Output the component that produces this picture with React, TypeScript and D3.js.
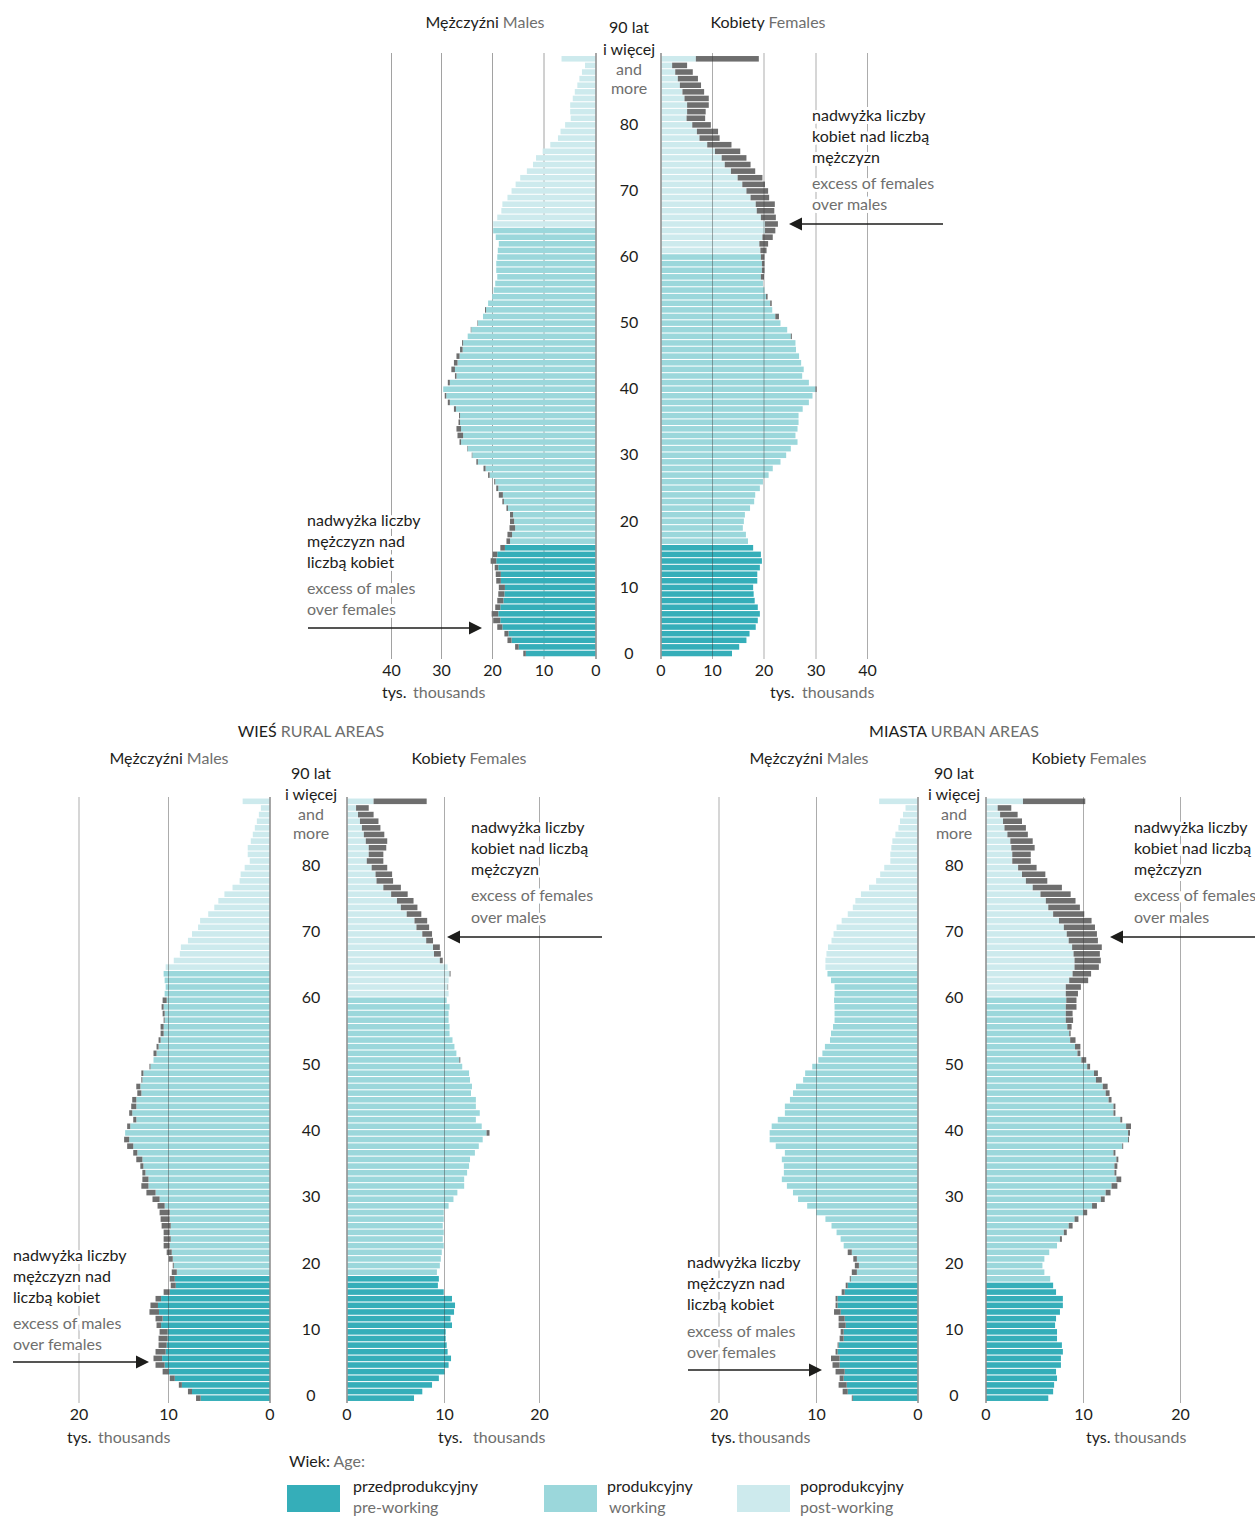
import React from "react";
import * as d3 from "d3";

// ---------- data (thousands of persons, index = age 0..90, 90 = "90 and more") ----------
const AGES = d3.range(0, 91);
const AGE_LABELS = [0, 10, 20, 30, 40, 50, 60, 70, 80];
const TOP_TICKS = [0, 10, 20, 30, 40];
const SUB_TICKS = [0, 10, 20];
const MALE_WORKING_LAST_AGE = 64;
const FEMALE_WORKING_LAST_AGE = 60;

const totalMales = [
  14.2, 15.8, 17.3, 17.9, 19.3, 20.1, 20.4, 19.7, 19.3, 19.1,
  19.0, 19.5, 19.6, 19.8, 20.6, 20.2, 18.7, 17.5, 17.3, 16.9,
  16.8, 16.8, 17.5, 18.3, 19.0, 19.5, 19.9, 21.1, 22.0, 23.4,
  24.3, 25.2, 26.7, 27.1, 27.3, 26.9, 26.8, 27.8, 29.0, 29.6,
  29.9, 29.0, 27.6, 28.3, 27.8, 27.3, 26.6, 26.2, 25.1, 24.5,
  23.2, 22.1, 21.7, 21.1, 20.3, 20.0, 19.7, 19.3, 19.5, 19.5,
  19.3, 19.2, 19.0, 19.6, 20.1, 20.1, 19.3, 18.5, 18.3, 17.3,
  16.5, 15.7, 14.8, 13.5, 12.3, 11.7, 10.4, 8.9, 7.4, 6.9,
  6.0, 4.9, 5.0, 5.0, 4.5, 4.1, 3.6, 3.2, 2.7, 2.1,
  6.7,
];
const totalFemales = [
  13.7, 15.1, 16.5, 17.1, 18.3, 18.7, 19.1, 18.7, 18.1, 17.9,
  17.8, 18.6, 18.6, 19.1, 19.5, 19.3, 17.8, 16.8, 16.4, 15.8,
  16.0, 16.2, 17.2, 18.0, 18.2, 19.1, 19.7, 20.8, 21.6, 23.1,
  24.2, 25.1, 26.4, 26.0, 26.4, 26.6, 26.6, 27.4, 28.6, 29.3,
  30.1, 28.6, 27.3, 27.6, 27.1, 26.7, 26.1, 26.0, 25.3, 24.4,
  23.1, 22.8, 21.5, 21.4, 20.6, 20.0, 19.7, 19.9, 20.0, 20.0,
  20.0, 20.4, 20.7, 21.6, 22.1, 22.6, 22.2, 21.9, 22.0, 20.9,
  20.7, 20.1, 19.6, 18.2, 17.3, 16.5, 15.3, 13.6, 11.3, 11.0,
  9.6, 8.5, 8.6, 9.2, 9.2, 8.3, 7.7, 7.1, 6.1, 5.0,
  18.9,
];
const ruralMales = [
  7.3, 8.1, 9.0, 9.9, 10.6, 11.3, 11.5, 11.3, 11.0, 11.0,
  10.9, 11.2, 11.3, 11.9, 11.8, 11.3, 10.5, 9.8, 9.9, 9.7,
  9.6, 10.0, 10.2, 10.5, 10.5, 10.5, 10.7, 10.8, 10.9, 11.1,
  11.6, 12.2, 12.7, 12.6, 12.6, 12.8, 13.2, 13.5, 14.1, 14.4,
  14.3, 14.1, 13.5, 13.9, 13.7, 13.6, 13.1, 13.2, 12.7, 12.7,
  11.9, 11.5, 11.5, 11.2, 11.0, 10.8, 10.8, 10.5, 10.6, 10.7,
  10.6, 10.4, 10.3, 10.4, 10.5, 10.3, 9.5, 8.9, 8.8, 8.1,
  7.7, 7.1, 6.9, 6.1, 5.5, 5.1, 4.5, 3.7, 3.0, 2.9,
  2.5, 2.0, 2.2, 2.2, 1.9, 1.7, 1.5, 1.3, 1.1, 0.9,
  2.7,
];
const ruralFemales = [
  6.85, 7.7, 8.7, 9.4, 10.0, 10.4, 10.65, 10.3, 10.2, 10.1,
  10.1, 10.75, 10.6, 10.96, 11.06, 10.75, 9.9, 9.3, 9.4, 9.2,
  9.5, 9.6, 9.7, 9.9, 9.8, 9.9, 9.8, 9.9, 9.9, 10.4,
  10.9, 11.3, 12.0, 12.0, 12.3, 12.5, 12.6, 13.1, 13.5, 13.9,
  14.6, 13.8, 13.2, 13.6, 13.2, 13.2, 12.7, 12.8, 12.6, 12.5,
  11.8, 11.6, 11.2, 11.0, 10.8, 10.5, 10.5, 10.4, 10.4, 10.5,
  10.2, 10.4, 10.35, 10.4, 10.6, 10.3, 9.8, 9.6, 9.5, 8.8,
  8.7, 8.4, 8.2, 7.6, 7.2, 6.8, 6.2, 5.5, 4.7, 4.6,
  4.1, 3.7, 3.7, 4.0, 4.1, 3.8, 3.4, 3.2, 2.7, 2.2,
  8.15,
];
const urbanMales = [
  6.5, 7.4, 7.8, 7.7, 8.1, 8.4, 8.55, 8.1, 7.9, 7.7,
  7.6, 7.8, 7.8, 8.25, 8.1, 8.1, 7.5, 7.1, 6.7, 6.5,
  6.2, 6.35, 6.9, 7.3, 7.6, 8.0, 8.5, 9.1, 10.0, 10.9,
  11.8, 12.3, 12.9, 13.4, 13.2, 13.2, 13.4, 13.1, 14.0, 14.6,
  14.6, 14.4, 13.8, 13.1, 13.1, 12.6, 12.3, 12.0, 11.3, 11.1,
  10.4, 9.8, 9.4, 9.15, 8.65, 8.55, 8.35, 8.2, 8.2, 8.2,
  8.25, 8.2, 8.2, 8.55, 8.9, 9.1, 9.1, 9.0, 8.85, 8.5,
  8.3, 8.0, 7.5, 6.9, 6.4, 6.15, 5.6, 4.8, 4.1, 3.7,
  3.3, 2.7, 2.7, 2.6, 2.5, 2.2, 1.9, 1.75, 1.45, 1.2,
  3.8,
];
const urbanFemales = [
  6.4, 6.9, 7.0, 7.3, 7.2, 7.7, 7.7, 7.9, 7.8, 7.3,
  7.3, 7.1, 7.2, 7.6, 7.9, 7.9, 7.2, 6.9, 6.6, 6.0,
  5.8, 6.0, 6.5, 7.3, 7.8, 8.3, 8.9, 9.5, 10.4, 11.4,
  12.2, 12.8, 13.5, 13.9, 13.4, 13.5, 13.6, 13.3, 14.1, 14.7,
  14.8, 14.9, 14.0, 13.3, 13.3, 12.9, 12.7, 12.5, 11.9, 11.5,
  10.7, 10.3, 9.7, 9.7, 9.2, 8.7, 8.8, 8.95, 8.9, 9.3,
  9.3, 9.45, 9.75, 10.5, 10.8, 11.6, 11.8, 11.7, 11.9, 11.5,
  11.4, 11.2, 10.85, 10.1, 9.65, 9.2, 8.7, 7.8, 6.3, 6.1,
  5.2, 4.6, 4.6, 5.0, 4.8, 4.3, 4.1, 3.7, 3.25, 2.6,
  10.2,
];

const LEGEND_ITEMS = [
  { key: "pre", pl: "przedprodukcyjny", en: "pre-working" },
  { key: "work", pl: "produkcyjny", en: "working" },
  { key: "post", pl: "poprodukcyjny", en: "post-working" },
];

const MALE_NOTE = ["nadwyżka liczby", "mężczyzn nad", "liczbą kobiet", "excess of males", "over females"];
const FEMALE_NOTE = ["nadwyżka liczby", "kobiet nad liczbą", "mężczyzn", "excess of females", "over males"];

// ---------- styles ----------
const C = {
  pre: "#35aeb9",
  work: "#9bd7db",
  post: "#cdeaed",
  excess: "#6e6e6e",
  text: "#1d1d1b",
  grey: "#6f6f6e",
  grid: "#3a3a3a",
  axis: "#8a8a8a",
};
const FONT = "Lato, 'Open Sans', 'DejaVu Sans', sans-serif";
const FS = 16;
const TDY = -1.3; // small vertical nudge for text centres

function colorFor(age: number, sex: "m" | "f", preLast: number) {
  if (age <= preLast) return C.pre;
  const last = sex === "m" ? MALE_WORKING_LAST_AGE : FEMALE_WORKING_LAST_AGE;
  return age <= last ? C.work : C.post;
}

// ---------- layout configs ----------
const PYRAMIDS = [
  {
    key: "total",
    males: totalMales,
    females: totalFemales,
    preLast: 16,
    ticks: TOP_TICKS,
    mBarDomain: [0, 40], mBarRange: [595.7, 391.7],
    fBarDomain: [0, 40], fBarRange: [661.3, 867.7],
    mTickX: [596, 544, 492.5, 441.5, 391.5],
    fTickX: [661, 712.5, 764, 816, 867.5],
    maleGridOver: false,
    rowTop: 55.5, rowBottom: 656.8, gridTop: 53, gridBottom: 659,
    centerX: 629, ageDy: 0, plusYs: [28, 50, 70, 89],
    tickY: 671, unitY: 693,
    maleUnit: [382, 413], femaleUnit: [770, 802],
    maleTitle: [485, 22], femaleTitle: [768, 22],
    section: null as null | { x: number; y: number; pl: string; en: string },
    maleNote: { x: 307, ys: [521, 542, 563, 589, 610], arrow: [308, 482, 628] },
    femaleNote: { x: 812, ys: [116, 137, 158, 184, 205], arrow: [943, 789, 224] },
  },
  {
    key: "rural",
    males: ruralMales,
    females: ruralFemales,
    preLast: 18,
    ticks: SUB_TICKS,
    mBarDomain: [0, 10], mBarRange: [270, 168.7],
    fBarDomain: [0, 10], fBarRange: [347.3, 444.7],
    mTickX: [270, 168.5, 79],
    fTickX: [347, 444.5, 539.5],
    maleGridOver: true,
    rowTop: 798, rowBottom: 1401.5, gridTop: 797, gridBottom: 1403,
    centerX: 311, ageDy: -2, plusYs: [774, 795, 815, 834],
    tickY: 1415, unitY: 1438,
    maleUnit: [67, 98], femaleUnit: [438, 473],
    maleTitle: [169, 758], femaleTitle: [469, 758],
    section: { x: 311, y: 731, pl: "WIEŚ", en: "RURAL AREAS" },
    maleNote: { x: 13, ys: [1256, 1277, 1298, 1324, 1345], arrow: [13, 149, 1362] },
    femaleNote: { x: 471, ys: [828, 849, 870, 896, 918], arrow: [602, 447, 937] },
  },
  {
    key: "urban",
    males: urbanMales,
    females: urbanFemales,
    preLast: 17,
    ticks: SUB_TICKS,
    mBarDomain: [0, 10], mBarRange: [917.7, 816.3],
    fBarDomain: [0, 10], fBarRange: [986, 1083.3],
    mTickX: [918, 816.5, 719],
    fTickX: [986, 1083.5, 1180.5],
    maleGridOver: true,
    rowTop: 798, rowBottom: 1401.5, gridTop: 797, gridBottom: 1403,
    centerX: 954, ageDy: -2, plusYs: [774, 795, 815, 834],
    tickY: 1415, unitY: 1438,
    maleUnit: [711, 738], femaleUnit: [1086, 1114],
    maleTitle: [809, 758], femaleTitle: [1089, 758],
    section: { x: 954, y: 731, pl: "MIASTA", en: "URBAN AREAS" },
    maleNote: { x: 687, ys: [1263, 1284, 1305, 1332, 1353], arrow: [688, 822, 1370] },
    femaleNote: { x: 1134, ys: [828, 849, 870, 896, 918], arrow: [1255, 1110, 937] },
  },
];

function Arrow({ x1, x2, y }: { x1: number; x2: number; y: number }) {
  const dir = Math.sign(x2 - x1);
  const head = 13;
  return (
    <g>
      <line x1={x1} x2={x2 - dir * head} y1={y} y2={y} stroke={C.text} strokeWidth={1.5} />
      <polygon
        points={`${x2},${y} ${x2 - dir * head},${y - 6.5} ${x2 - dir * head},${y + 6.5}`}
        fill={C.text}
      />
    </g>
  );
}

function Note({ note, lines }: { note: { x: number; ys: number[]; arrow: number[] }; lines: string[] }) {
  return (
    <g>
      {lines.map((t, i) => (
        <text
          key={i}
          x={note.x}
          y={note.ys[i] + TDY}
          dominantBaseline="central"
          fontSize={FS}
          fill={i < 3 ? C.text : C.grey}
          stroke="#fff"
          strokeWidth={6}
          strokeLinejoin="round"
          paintOrder="stroke"
        >
          {t}
        </text>
      ))}
      <Arrow x1={note.arrow[0]} x2={note.arrow[1]} y={note.arrow[2]} />
    </g>
  );
}

function TwoTone({ x, y, a, b, anchor = "middle" }: { x: number; y: number; a: string; b: string; anchor?: string }) {
  return (
    <text x={x} y={y + TDY} textAnchor={anchor as any} dominantBaseline="central" fontSize={FS}>
      <tspan fill={C.text}>{a}</tspan>
      <tspan fill={C.grey}>{" " + b}</tspan>
    </text>
  );
}

function GridLine({ x, cfg, over }: { x: number; cfg: any; over: boolean }) {
  return (
    <line
      x1={x}
      x2={x}
      y1={cfg.gridTop}
      y2={cfg.gridBottom}
      stroke={over ? C.grid : "#a2a2a2"}
      strokeOpacity={over ? 0.42 : 1}
      strokeWidth={1}
    />
  );
}

function Pyramid({ cfg }: { cfg: (typeof PYRAMIDS)[number] }) {
  const y = d3
    .scaleBand<number>()
    .domain([...AGES].reverse())
    .range([cfg.rowTop, cfg.rowBottom])
    .paddingInner(0.16)
    .paddingOuter(0.08);
  const mBar = d3.scaleLinear().domain(cfg.mBarDomain).range(cfg.mBarRange);
  const fBar = d3.scaleLinear().domain(cfg.fBarDomain).range(cfg.fBarRange);
  const mAxis = d3.scaleLinear().domain(cfg.ticks).range(cfg.mTickX);
  const fAxis = d3.scaleLinear().domain(cfg.ticks).range(cfg.fTickX);
  const bh = y.bandwidth();
  const m0 = mBar(0);
  const f0 = fBar(0);
  const rowCenter = (a: number) => (y(a) as number) + bh / 2;
  const gridTicks = cfg.ticks.filter((t) => t > 0);

  return (
    <g>
      {/* male grid lines drawn behind bars where the original does so */}
      {!cfg.maleGridOver && gridTicks.map((t) => <GridLine key={"mb" + t} x={mAxis(t)} cfg={cfg} over={false} />)}

      {/* bars */}
      {AGES.map((age) => {
        const m = cfg.males[age];
        const f = cfg.females[age];
        const common = Math.min(m, f);
        const yy = y(age) as number;
        return (
          <g key={age}>
            <rect x={mBar(common)} y={yy} width={m0 - mBar(common)} height={bh} fill={colorFor(age, "m", cfg.preLast)} />
            {m > f && <rect x={mBar(m)} y={yy} width={mBar(common) - mBar(m)} height={bh} fill={C.excess} />}
            <rect x={f0} y={yy} width={fBar(common) - f0} height={bh} fill={colorFor(age, "f", cfg.preLast)} />
            {f > m && <rect x={fBar(common)} y={yy} width={fBar(f) - fBar(common)} height={bh} fill={C.excess} />}
          </g>
        );
      })}

      {/* grid lines over bars */}
      {cfg.maleGridOver && gridTicks.map((t) => <GridLine key={"mo" + t} x={mAxis(t)} cfg={cfg} over={true} />)}
      {gridTicks.map((t) => <GridLine key={"fo" + t} x={fAxis(t)} cfg={cfg} over={true} />)}
      <line x1={mAxis(0)} x2={mAxis(0)} y1={cfg.gridTop} y2={cfg.gridBottom} stroke={C.axis} strokeWidth={1.5} />
      <line x1={fAxis(0)} x2={fAxis(0)} y1={cfg.gridTop} y2={cfg.gridBottom} stroke={C.axis} strokeWidth={1.5} />

      {/* tick labels */}
      {cfg.ticks.map((t) => (
        <g key={"t" + t}>
          <text x={mAxis(t)} y={cfg.tickY + TDY} textAnchor="middle" dominantBaseline="central" fontSize={FS} fill={C.text}>
            {t}
          </text>
          <text x={fAxis(t)} y={cfg.tickY + TDY} textAnchor="middle" dominantBaseline="central" fontSize={FS} fill={C.text}>
            {t}
          </text>
        </g>
      ))}
      <text x={cfg.maleUnit[0]} y={cfg.unitY + TDY} dominantBaseline="central" fontSize={FS} fill={C.text}>tys.</text>
      <text x={cfg.maleUnit[1]} y={cfg.unitY + TDY} dominantBaseline="central" fontSize={FS} fill={C.grey}>thousands</text>
      <text x={cfg.femaleUnit[0]} y={cfg.unitY + TDY} dominantBaseline="central" fontSize={FS} fill={C.text}>tys.</text>
      <text x={cfg.femaleUnit[1]} y={cfg.unitY + TDY} dominantBaseline="central" fontSize={FS} fill={C.grey}>thousands</text>

      {/* age labels */}
      {AGE_LABELS.map((a) => (
        <text key={"a" + a} x={cfg.centerX} y={rowCenter(a) + cfg.ageDy + TDY} textAnchor="middle" dominantBaseline="central" fontSize={FS} fill={C.text}>
          {a}
        </text>
      ))}
      {["90 lat", "i więcej", "and", "more"].map((t, i) => (
        <text key={"p" + i} x={cfg.centerX} y={cfg.plusYs[i] + TDY} textAnchor="middle" dominantBaseline="central" fontSize={FS} fill={i < 2 ? C.text : C.grey}>
          {t}
        </text>
      ))}

      {/* titles */}
      {cfg.section && <TwoTone x={cfg.section.x} y={cfg.section.y} a={cfg.section.pl} b={cfg.section.en} />}
      <TwoTone x={cfg.maleTitle[0]} y={cfg.maleTitle[1]} a="Mężczyźni" b="Males" />
      <TwoTone x={cfg.femaleTitle[0]} y={cfg.femaleTitle[1]} a="Kobiety" b="Females" />

      {/* annotations */}
      <Note note={cfg.maleNote} lines={MALE_NOTE} />
      <Note note={cfg.femaleNote} lines={FEMALE_NOTE} />
    </g>
  );
}

function Legend() {
  const swatchX = [287, 544, 737];
  const textX = [353, 607, 800];
  return (
    <g>
      <TwoTone x={289} y={1461} a="Wiek:" b="Age:" anchor="start" />
      {LEGEND_ITEMS.map((it, i) => (
        <g key={it.key}>
          <rect x={swatchX[i]} y={1485} width={53} height={27} fill={(C as any)[it.key]} />
          <text x={textX[i]} y={1487 + TDY} dominantBaseline="central" fontSize={FS} fill={C.text}>{it.pl}</text>
          <text x={textX[i] + (i === 1 ? 2 : 0)} y={1508 + TDY} dominantBaseline="central" fontSize={FS} fill={C.grey}>{it.en}</text>
        </g>
      ))}
    </g>
  );
}

export default function App() {
  return (
    <svg
      width={1255}
      height={1518}
      viewBox="0 0 1255 1518"
      style={{ position: "absolute", left: 0, top: 0, background: "#fff" }}
      fontFamily={FONT}
    >
      {PYRAMIDS.map((p) => (
        <Pyramid key={p.key} cfg={p} />
      ))}
      <Legend />
    </svg>
  );
}
